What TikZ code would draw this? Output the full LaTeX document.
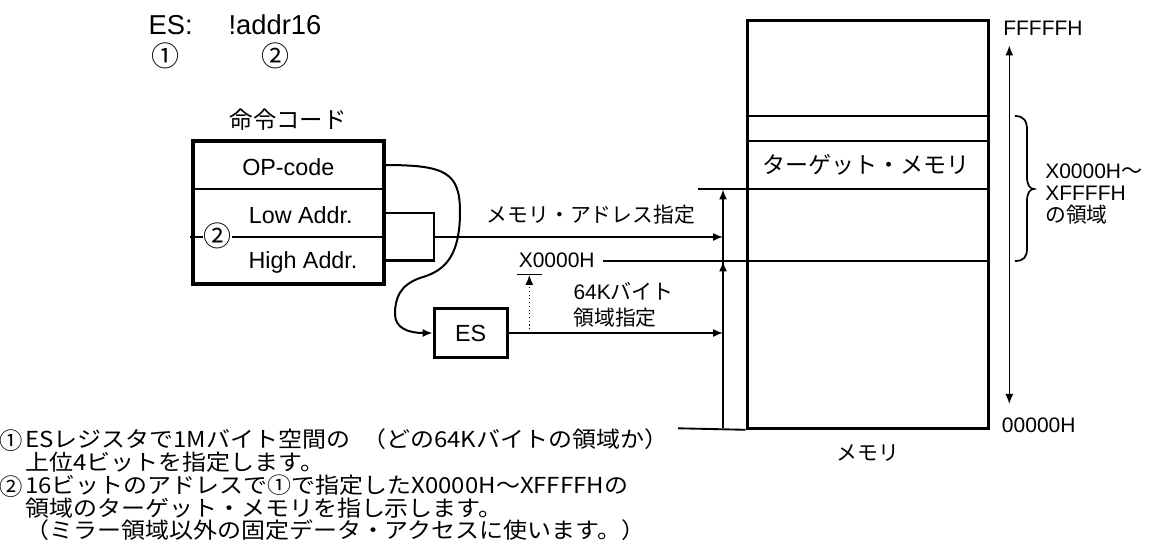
\documentclass[tikz,border=0pt]{standalone}
\usepackage{fontspec}
\setmainfont{Liberation Sans}
\newfontfamily\jp{Noto Sans CJK JP}
\usetikzlibrary{arrows.meta}
\newcommand{\jt}[1]{{\jp #1}}
\begin{document}
\begin{tikzpicture}[x=0.75pt,y=-0.75pt,
  thickbox/.style={draw, line width=2.3pt},
  rowbox/.style={draw=none, minimum width=143.25pt, inner sep=0pt, outer sep=0pt},
  conn/.style={line width=1.1pt},
  arr/.style={-{Latex[length=7.5pt,width=6pt]}},
  lbl/.style={font=\fontsize{15.75}{18}\selectfont, inner sep=0pt, text height=11.3pt, text depth=0pt},
  jlbl/.style={font=\jp\fontsize{15.6}{18}\selectfont, inner sep=0pt, text height=11.3pt, text depth=0pt},
  boxtxt/.style={font=\fontsize{17.5}{21}\selectfont, inner sep=0pt, text height=12.5pt, text depth=0pt},
  bigtxt/.style={font=\fontsize{20.5}{24}\selectfont, inner sep=0pt, text height=14.7pt, text depth=0pt},
  circ/.style={font=\jp\fontsize{21}{24}\selectfont, inner sep=0pt, text height=15pt, text depth=0pt},
  note/.style={font=\jp\fontsize{16.5}{18}\selectfont, xscale=1.09, inner sep=0pt, anchor=west, text height=11.8pt, text depth=0pt},
]
\useasboundingbox (0,0) rectangle (1150,559);

% ---- top formula
\node[bigtxt, anchor=west] (fes) at (148.3,25) {ES:};
\node[bigtxt, anchor=west] (fad) at (228.3,25) {!addr16};
\node[circ] (fc1) at (165.8,56.7) {①};
\node[circ] (fc2) at (275,56.7) {②};

% ---- instruction code box
\node[font=\jp\fontsize{17.5}{21}\selectfont, inner sep=0pt, text height=12.5pt, text depth=0pt] (ttl) at (288.3,120) {命令コード};
\node[rowbox, minimum height=36pt] (opc) at (288.5,165) {};
\node[rowbox, minimum height=36pt] (lowr) at (288.5,213) {};
\node[rowbox, minimum height=35.25pt] (highr) at (288.5,260.5) {};
\draw[line width=1.7pt] (opc.south west) -- (opc.south east);
\draw[line width=1.5pt] ([xshift=-2.5pt]lowr.south west) -- (lowr.south east);
\draw[line width=2.5pt] (opc.north west) rectangle (highr.south east);
\node[boxtxt] (topc) at (288.3,167.5) {OP-code};
\node[boxtxt] (tlow) at (300.8,215.5) {Low Addr.};
\node[boxtxt] (thigh) at (303,260.5) {High Addr.};
\node[font=\jp\fontsize{21}{24}\selectfont, fill=white, inner sep=0.5pt, text height=15pt, text depth=0pt] (c2b) at (217.5,237) {②};

% bracket and address arrow
\coordinate (brk) at (434,237);
\coordinate (col1) at (723,237);
\draw[line width=1.6pt] (lowr.east) -| (brk) |- (highr.east);
\draw[conn, arr] (brk) -- (col1);
\node[jlbl] (lmad) at (590.8,215) {メモリ・アドレス指定};

% ES register
\node[thickbox, minimum width=54.75pt, minimum height=36.75pt, inner sep=0pt, font=\fontsize{17.5}{21}\selectfont] (es) at (470.7,333) {ES};
\draw[line width=1.5pt, arr] (opc.east) .. controls (445,165) and (460,172) .. (460,212)
   .. controls (460,262) and (440,272) .. (420,278)
   .. controls (400,285) and (395,298) .. (395,314)
   .. controls (395,328) and (408,333) .. (es.west);
\coordinate (col2) at (723,333);
\draw[conn, arr] (es.east) -- (col2);

% X0000H marker
\node[lbl] (x0) at (556.7,260) {X0000H};
\coordinate (d0) at (529.3,333);
\coordinate (d1) at (529.3,275);
\draw[line width=0.8pt, dotted, arr] (d0) -- (d1);
\draw[line width=1.1pt] (516.7,274.5) -- (541.7,274.5);
\node[lbl, anchor=west] (k64) at (573.3,292.3) {64K\jt{バイト}};
\node[jlbl, anchor=west] (k64b) at (573.3,318.3) {領域指定};

% ---- memory
\node[draw, line width=2.4pt, minimum width=180.75pt, minimum height=306pt, inner sep=0pt] (mem) at (867.8,224.2) {};
\coordinate (m116) at (988,116);
\coordinate (m141) at (988,140.7);
\draw[line width=1.4pt] (mem.west |- m116) -- (m116);
\draw[line width=1.4pt] (mem.west |- m141) -- (m141);
\coordinate (l189a) at (698,189);
\coordinate (l189b) at (988,189);
\draw[line width=1.4pt] (l189a) -- (l189b);
\coordinate (l261a) at (602.7,261);
\coordinate (l261b) at (988,261);
\draw[line width=1.4pt] (l261a) -- (l261b);
\coordinate (l428a) at (678,428.3);
\draw[line width=1.4pt] (l428a) -- (mem.south west);
\node[font=\jp\fontsize{17.3}{20}\selectfont, inner sep=0pt, text height=12.4pt, text depth=0pt] (tgt) at (866,165) {ターゲット・メモリ};
\node[jlbl] (mlab) at (868,453) {メモリ};

% arrow column
\coordinate (cb) at (723,428.3);
\coordinate (ct) at (723,189.5);
\coordinate (cm) at (723,261.5);
\draw[conn, arr] (cb) -- (ct);
\draw[conn, arr] (723,300) -- (cm);

% right double arrow
\coordinate (ra) at (1009.3,45.5);
\coordinate (rb) at (1009.3,404);
\draw[conn, {Latex[length=7.5pt,width=6pt]}-{Latex[length=7.5pt,width=6pt]}] (rb) -- (ra);
\node[lbl, anchor=west] (fff) at (1003,27.5) {FFFFFH};
\node[lbl, anchor=west] (zzz) at (1001.7,424.7) {00000H};

% brace
\draw[line width=1.3pt] (1015,116) .. controls (1024,116) and (1027,121) .. (1027,130) -- (1027,177)
  .. controls (1027,185) and (1030,189) .. (1034,189)
  .. controls (1030,189) and (1027,193) .. (1027,201) -- (1027,248)
  .. controls (1027,257) and (1024,261) .. (1015,261);
\node[lbl, anchor=west] (r1) at (1045,170.5) {X0000H\jt{～}};
\node[lbl, anchor=west] (r2) at (1045,193) {XFFFFH};
\node[jlbl, anchor=west] (r3) at (1045,215) {の領域};

% ---- notes
\node[circ, font=\jp\fontsize{17.5}{20}\selectfont] (n1m) at (11.5,440) {①};
\node[note] (n1) at (25,440) {ESレジスタで1Mバイト空間の\hspace{0.5em}（どの64Kバイトの領域か）};
\node[note] (n2) at (25,463) {上位4ビットを指定します。};
\node[circ, font=\jp\fontsize{17.5}{20}\selectfont] (n3m) at (11.5,486) {②};
\node[note] (n3) at (25,486) {16ビットのアドレスで①で指定したX0000H～XFFFFHの};
\node[note] (n4) at (25,509) {領域のターゲット・メモリを指し示します。};
\node[note] (n5) at (25,531) {（ミラー領域以外の固定データ・アクセスに使います。）};
\end{tikzpicture}
\end{document}
